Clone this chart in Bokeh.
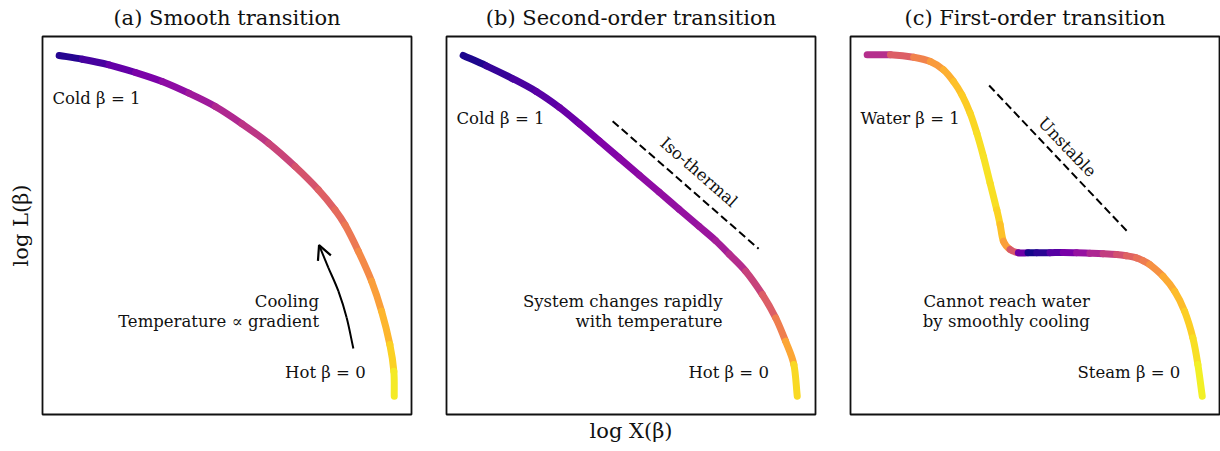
from bokeh.plotting import figure
from bokeh.layouts import row
from bokeh.models import Range1d, FixedTicker, Arrow, OpenHead, ColumnDataSource
from bokeh.palettes import Plasma256
from bokeh.core.properties import value
from bokeh.embed import file_html
from bokeh.resources import INLINE

FONT = "DejaVu Serif"

# ---- data (arbitrary log units) ----
titles = ["(a) Smooth transition", "(b) Second-order transition", "(c) First-order transition"]

smooth_logX = [16.7, 40, 66.7, 93.3, 120, 146.7, 173.3, 200, 226.7, 253.3, 276.7, 293.3, 303.3, 316.7, 330, 340, 348.3, 352.3, 352.7]
smooth_logL = [359, 355.3, 349.7, 342, 333, 321.3, 308, 290.7, 271.3, 248, 224.7, 204.7, 189.7, 163.3, 133.3, 103.3, 70, 43.3, 18.3]
smooth_temp = [0.0, 0.08, 0.15, 0.22, 0.27, 0.32, 0.37, 0.42, 0.47, 0.52, 0.57, 0.61, 0.64, 0.69, 0.75, 0.81, 0.88, 0.94, 1.0]

second_logX = [16.7, 40, 66.7, 90, 113.3, 133.3, 153.3, 173.3, 193.3, 213.3, 233.3, 253.3, 270, 283.3, 300, 316.7, 330, 340, 348.3, 351.7]
second_logL = [359, 348.7, 335.7, 323, 307, 290.7, 273.6, 256.5, 239.4, 222.3, 205.2, 188.1, 173.8, 160.5, 143.3, 120, 96.7, 73.3, 50, 18.3]
second_temp = [0.0, 0.05, 0.1, 0.14, 0.18, 0.22, 0.25, 0.27, 0.29, 0.3, 0.31, 0.32, 0.34, 0.38, 0.44, 0.53, 0.63, 0.74, 0.86, 1.0]

first_logX = [16.7, 40, 63.3, 80, 93.3, 103.3, 111.7, 120, 126.7, 133.3, 140, 146.7, 150, 153.3, 160, 168.3, 178, 186.7, 200, 213.3, 226.7, 240, 253.3, 266.7, 276.7, 286.7, 293.3, 300, 313.3, 325, 335, 343.3, 348.3, 352.7]
first_logL = [359.7, 359.7, 357.3, 353, 344.7, 333, 319.7, 301.3, 281.3, 258, 231.3, 204.7, 190, 173.3, 165, 161.7, 161.7, 161.7, 161.8, 162, 161.7, 161.3, 160.8, 160, 158.7, 156.7, 153.8, 150, 138.3, 123.3, 103.3, 76.7, 50, 18.3]
first_temp = [0.33, 0.5, 0.66, 0.74, 0.8, 0.85, 0.88, 0.91, 0.93, 0.95, 0.95, 0.93, 0.9, 0.84, 0.72, 0.4, 0.02, 0.0, 0.1, 0.2, 0.28, 0.35, 0.43, 0.5, 0.57, 0.62, 0.66, 0.7, 0.78, 0.84, 0.88, 0.92, 0.96, 1.0]

# dashed reference lines
iso_x = [166.6, 313.0]
iso_y = [293.3, 165.7]
unstable_x = [139.0, 277.3]
unstable_y = [329.0, 183.3]

# cooling arrow path
arrow_x = [311.7, 305.0, 296.7, 286.7, 277.3]
arrow_y = [66.0, 96.7, 123.3, 146.7, 169.3]

XR = (0, 370)
YR = (0, 378)
FW, FH = 369, 378


def make_fig(title, left, right, xlabel=None, ylabel=None):
    p = figure(frame_width=FW, frame_height=FH,
               x_range=Range1d(*XR), y_range=Range1d(*YR),
               output_backend="svg", toolbar_location=None,
               min_border_left=left, min_border_right=right,
               min_border_top=36, min_border_bottom=37,
               background_fill_color="white", border_fill_color="white")
    p.title.text = title
    p.title.align = "center"
    p.title.vertical_align = "top"
    p.title.text_font = FONT
    p.title.text_font_size = "21px"
    p.title.text_font_style = "normal"
    p.title.text_color = "#111111"
    p.title.standoff = 9
    p.title.offset = 0
    p.grid.visible = False
    p.outline_line_color = "#111111"
    p.outline_line_width = 1.8
    p.outline_line_alpha = 1.0
    for ax, lab, so in ((p.xaxis[0], xlabel, 4), (p.yaxis[0], ylabel, 10)):
        if lab is None:
            ax.visible = False
        else:
            ax.ticker = FixedTicker(ticks=[])
            ax.axis_line_color = None
            ax.major_tick_line_color = None
            ax.minor_tick_line_color = None
            ax.major_tick_out = 0
            ax.major_label_standoff = 0
            ax.major_label_text_font_size = "0px"
            ax.axis_label = lab
            ax.axis_label_text_font = FONT
            ax.axis_label_text_font_size = "21px"
            ax.axis_label_text_font_style = "normal"
            ax.axis_label_text_color = "#111111"
            ax.axis_label_standoff = so
    return p


def bezier_pieces(xs, ys):
    # smooth (Catmull-Rom style) rendering of the listed points, one cubic piece per interval
    n = len(xs)
    tx, ty = [], []
    for i in range(n):
        a, b = max(i - 1, 0), min(i + 1, n - 1)
        f = 0.5 if (b - a) == 2 else 1.0
        tx.append((xs[b] - xs[a]) * f)
        ty.append((ys[b] - ys[a]) * f)
    return dict(x0=xs[:-1], y0=ys[:-1], x1=xs[1:], y1=ys[1:],
                cx0=[xs[i] + tx[i] / 3 for i in range(n - 1)],
                cy0=[ys[i] + ty[i] / 3 for i in range(n - 1)],
                cx1=[xs[i + 1] - tx[i + 1] / 3 for i in range(n - 1)],
                cy1=[ys[i + 1] - ty[i + 1] / 3 for i in range(n - 1)])


def gradient_curve(p, xs, ys, ts):
    d = bezier_pieces(xs, ys)
    d["c"] = [Plasma256[int(round((ts[i] + ts[i + 1]) / 2 * 255))] for i in range(len(xs) - 1)]
    p.bezier("x0", "y0", "x1", "y1", "cx0", "cy0", "cx1", "cy1", source=ColumnDataSource(d),
             line_color="c", line_width=7, line_cap="round")


def txt(p, xs, ys, texts, align, angle=0.0, size="16.5px"):
    p.text(x=xs, y=ys, text=texts, text_align=align, text_baseline="middle",
           text_font=value(FONT), text_font_size=size, text_color="#111111", angle=angle)


pa = make_fig(titles[0], 42, 17, ylabel="log L(β)")
pb = make_fig(titles[1], 18, 18, xlabel="log X(β)")
pc = make_fig(titles[2], 17, 1)

# panel a
gradient_curve(pa, smooth_logX, smooth_logL, smooth_temp)
pa.bezier(source=ColumnDataSource(bezier_pieces(arrow_x[:-1], arrow_y[:-1])),
          x0="x0", y0="y0", x1="x1", y1="y1", cx0="cx0", cy0="cy0", cx1="cx1", cy1="cy1",
          line_color="black", line_width=2)
pa.add_layout(Arrow(end=OpenHead(size=14, line_width=2.2, line_color="black"),
                    x_start=arrow_x[-2], y_start=arrow_y[-2], x_end=arrow_x[-1], y_end=arrow_y[-1],
                    line_width=2, line_color="black"))
txt(pa, [10], [316], ["Cold β = 1"], "left")
txt(pa, [277.3, 277.3], [112.7, 93.3], ["Cooling", "Temperature ∝ gradient"], "right")
txt(pa, [324], [41.7], ["Hot β = 0"], "right")

# panel b
gradient_curve(pb, second_logX, second_logL, second_temp)
pb.line(iso_x, iso_y, line_color="black", line_width=2, line_dash="8 4")
txt(pb, [10], [296.3], ["Cold β = 1"], "left")
txt(pb, [276.7, 276.7], [112.7, 93.3], ["System changes rapidly", "with temperature"], "right")
txt(pb, [323.3], [41.7], ["Hot β = 0"], "right")
txt(pb, [253], [242.3], ["Iso-thermal"], "center", angle=-0.72)

# panel c
gradient_curve(pc, first_logX, first_logL, first_temp)
pc.line(unstable_x, unstable_y, line_color="black", line_width=2, line_dash="8 4")
txt(pc, [10], [296.3], ["Water β = 1"], "left")
txt(pc, [240, 240], [112.7, 93.3], ["Cannot reach water", "by smoothly cooling"], "right")
txt(pc, [330.7], [41.7], ["Steam β = 0"], "right")
txt(pc, [217.3], [267.3], ["Unstable"], "center", angle=-0.81)

layout = row(pa, pb, pc)
open("out.html", "w").write(file_html(layout, INLINE))
